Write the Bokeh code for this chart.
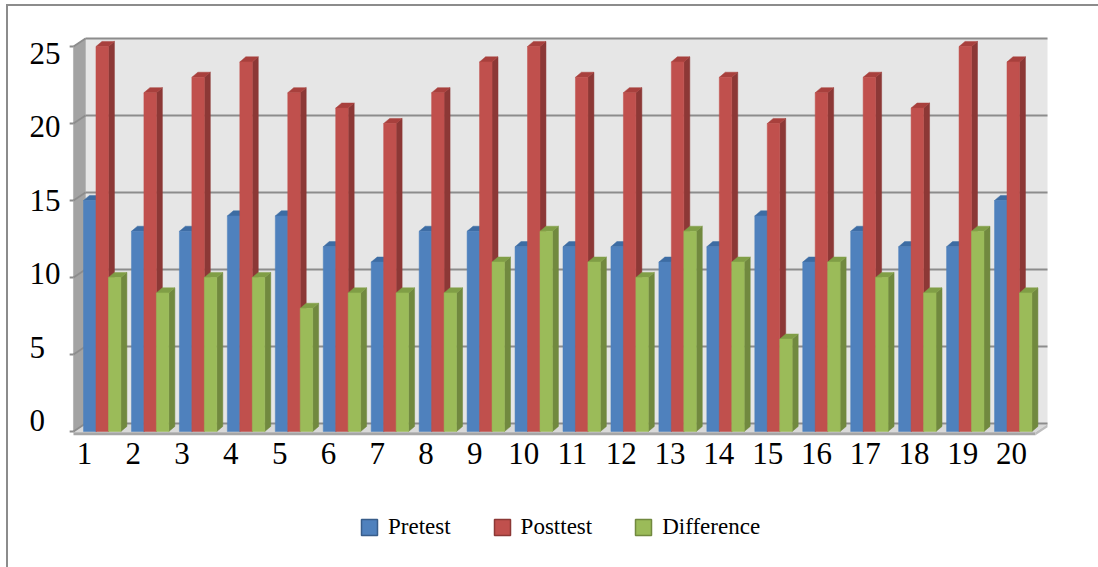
from bokeh.plotting import figure
from bokeh.layouts import column
from bokeh.models import (Range1d, FixedTicker, Legend, LegendItem, ColumnDataSource)
from bokeh.core.properties import value
from bokeh.embed import file_html
from bokeh.resources import INLINE

# ---------------- data ----------------
categories = [str(i) for i in range(1, 21)]
pretest = [15, 13, 13, 14, 14, 12, 11, 13, 13, 12, 12, 12, 11, 12, 14, 11, 13, 12, 12, 15]
posttest = [25, 22, 23, 24, 22, 21, 20, 22, 24, 25, 23, 22, 24, 23, 20, 22, 23, 21, 25, 24]
difference = [10, 9, 10, 10, 8, 9, 9, 9, 11, 13, 11, 10, 13, 11, 6, 11, 10, 9, 13, 9]
series_names = ["Pretest", "Posttest", "Difference"]
y_ticks = [0, 5, 10, 15, 20, 25]

# ---------------- style ----------------
front_col = ["#4f81bd", "#c0504d", "#9bbb59"]
side_col = ["#385d8a", "#8c3836", "#71893f"]
top_col = ["#3d6ca3", "#a8403d", "#809e46"]
FONT = "Liberation Serif"

W, H = 1090, 474
p = figure(width=W, height=H,
           x_range=Range1d(-0.754, 20.769), y_range=Range1d(-0.39, 26.04),
           output_backend="svg", toolbar_location=None,
           min_border_left=12, min_border_right=46,
           min_border_top=24, min_border_bottom=43)
p.outline_line_color = None
p.xgrid.visible = False
p.ygrid.visible = False
p.yaxis.visible = False
p.background_fill_color = "white"
p.border_fill_color = "white"

# 3D geometry (data units)
wall_dx, wall_dy = 0.25, 0.52
x_wall_front = 0.351
x_wall_back = x_wall_front + wall_dx
x_right_back = 20.665
x_right_front = x_right_back - wall_dx
top_val = y_ticks[-1]

# back wall
p.quad(left=[x_wall_back], right=[x_right_back], bottom=[wall_dy - 0.05],
       top=[top_val + wall_dy], fill_color="#e6e6e6", line_color=None)
# left wall
p.patch([x_wall_front, x_wall_front, x_wall_back, x_wall_back],
        [-0.05, top_val, top_val + wall_dy, wall_dy - 0.05],
        fill_color="#a3a3a3", line_color="#b8b8b8", line_width=1)
# floor top
p.patch([x_wall_front, x_right_front, x_right_back, x_wall_back],
        [-0.05, -0.05, wall_dy - 0.05, wall_dy - 0.05],
        fill_color="#d9d9d9", line_color=None)
# floor front and right faces
p.patch([x_wall_front, x_right_front, x_right_front, x_wall_front],
        [-0.05, -0.05, -0.25, -0.25], fill_color="#a6a6a6", line_color=None)
p.patch([x_right_front, x_right_back, x_right_back, x_right_front],
        [-0.05, wall_dy - 0.05, wall_dy - 0.25, -0.25],
        fill_color="#bdbdbd", line_color=None)

# gridlines on back wall and left wall
gx0, gx1, gy0, gy1 = [], [], [], []
for v in y_ticks:
    gx0 += [x_wall_back, x_wall_front, x_wall_front - 0.08]
    gx1 += [x_right_back, x_wall_back, x_wall_front]
    gy0 += [v + wall_dy, v, v]
    gy1 += [v + wall_dy, v + wall_dy, v]
p.segment(x0=gx0, y0=gy0, x1=gx1, y1=gy1, line_color="#8c8c8c", line_width=2)

# bars
bw = 0.26
bdx, bdy = 0.125, 0.33
all_series = [pretest, posttest, difference]
for k, vals in enumerate(all_series):
    fx, fy, sx, sy, tx, ty = [], [], [], [], [], []
    for i, v in enumerate(vals):
        c = i + 1
        L = c - 0.44 + k * bw
        R = L + bw
        fx.append([L, R, R, L]); fy.append([0, 0, v, v])
        sx.append([R, R + bdx, R + bdx, R]); sy.append([0, bdy, v + bdy, v])
        tx.append([L, R, R + bdx, L + bdx]); ty.append([v, v, v + bdy, v + bdy])
    p.patches(xs=sx, ys=sy, fill_color=side_col[k], line_color=side_col[k], line_width=0.5)
    p.patches(xs=tx, ys=ty, fill_color=top_col[k], line_color=top_col[k], line_width=0.5)
    p.patches(xs=fx, ys=fy, fill_color=front_col[k], line_color=front_col[k], line_width=0.5)

# y tick labels (left aligned like the original, placed at the front corner)
ylab = ColumnDataSource(dict(x=[-0.566] * len(y_ticks),
                             y=[0.714 + 0.9545 * v for v in y_ticks],
                             text=[str(v) for v in y_ticks]))
p.text(x="x", y="y", text="text", source=ylab, text_align="left",
       text_baseline="middle", text_font=value(FONT), text_font_size="31px",
       text_color="black")

# x axis labels
tick_pos = [round(0.58 + i * 1.0177, 4) for i in range(len(categories))]
p.xaxis.ticker = FixedTicker(ticks=tick_pos)
p.xaxis.major_label_overrides = {t: lab for t, lab in zip(tick_pos, categories)}
p.xaxis.axis_line_color = None
p.xaxis.major_tick_line_color = None
p.xaxis.minor_tick_line_color = None
p.xaxis.major_tick_out = 0
p.xaxis.major_tick_in = 0
p.xaxis.major_label_standoff = 5
p.xaxis.major_label_text_font = FONT
p.xaxis.major_label_text_font_size = "31px"
p.xaxis.major_label_text_color = "black"

# legend strip (separate small canvas under the chart)
LH = 88
lf = figure(width=W, height=LH, x_range=Range1d(0, 1), y_range=Range1d(0, 1),
            output_backend="svg", toolbar_location=None, min_border=0)
lf.axis.visible = False
lf.grid.visible = False
lf.outline_line_color = None
lf.background_fill_color = "white"
lf.border_fill_color = "white"
dummies = []
for k in range(3):
    # swatch renderers kept outside the visible range; only their legend glyph shows
    r = lf.quad(left=[5], right=[6], top=[6], bottom=[5], fill_color=front_col[k],
                line_color=side_col[k], line_width=1.5)
    dummies.append(r)
legend = Legend(items=[LegendItem(label=n, renderers=[r]) for n, r in zip(series_names, dummies)],
                orientation="horizontal", location=(339, 28),
                glyph_width=20, glyph_height=20, label_standoff=9, spacing=41,
                padding=0, margin=0, border_line_color=None, background_fill_alpha=0,
                label_text_font=FONT, label_text_font_size="23px", label_text_color="black")
lf.add_layout(legend, "center")

layout = column(p, lf, spacing=0)
layout.styles = {"border-top": "2px solid #8c8c8c", "border-left": "2px solid #8c8c8c",
                 "margin-left": "6px", "margin-top": "4px"}

open("out.html", "w").write(file_html(layout, INLINE))
